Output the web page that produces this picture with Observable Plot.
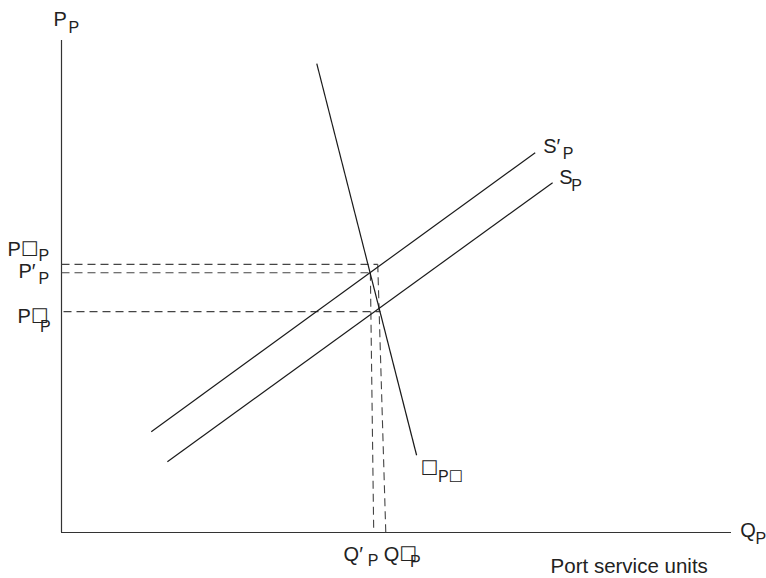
<!DOCTYPE html>
<html><head><meta charset="utf-8">
<script src="https://cdn.jsdelivr.net/npm/d3@7"></script>
<script src="https://cdn.jsdelivr.net/npm/@observablehq/plot@0.6"></script>
<style>html,body{margin:0;padding:0;background:#fff;}#chart svg{display:block;}</style>
</head><body><div id="chart"></div>
<script>
// Curves (quantity, price) in chart units 0..100
const supplyNew = [{q: 13.4, p: 20.5}, {q: 70.7, p: 77.2}];   // S'P
const supplyOld = [{q: 15.8, p: 14.4}, {q: 73.3, p: 71.1}];   // SP
const demand    = [{q: 38.1, p: 95.3}, {q: 53.0, p: 15.7}];   // DP

// Dashed guide lines (price levels and quantities)
const guideQ1 = [0, 0, 0.3, 46.1, 47.2];
const guideP1 = [54.5, 52.8, 44.9, 52.8, 54.5];
const guideQ2 = [47.2, 46.1, 47.6, 46.6, 48.4];
const guideP2 = [54.5, 52.8, 44.9, 0, 0];

// Labels: main text and subscripts
const mainText = ["P", "P\u2610", "P\u2032", "P\u2610", "Q\u2032", "Q\u2610", "S\u2032", "S", "\u2610", "Q"];
const mainX    = [-1.19, -8.06, -6.42, -6.57, 42.1, 48.1, 71.9, 74.3, 53.6, 101.3];
const mainY    = [103.0, 56.3, 51.8, 42.5, -5.7, -5.7, 77.2, 70.9, 11.6, -1.0];
const subText  = ["P", "P", "P", "P", "P", "P", "P", "P", "P\u2610", "P"];
const subX     = [1.04, -3.43, -3.43, -3.2, 45.7, 52.0, 74.8, 76.1, 56.2, 103.6];
const subY     = [101.6, 55.1, 50.6, 40.7, -6.9, -7.1, 76.0, 69.5, 10.2, -2.4];
const unitsLabel = ["Port service units"];
const unitsX = [73.0];
const unitsY = [-8.3];

const curves = [supplyNew, supplyOld, demand].map(c => ({x1: c[0].q, y1: c[0].p, x2: c[1].q, y2: c[1].p}));
const guides = guideQ1.map((q, i) => ({x1: q, y1: guideP1[i], x2: guideQ2[i], y2: guideP2[i]}));
const idx = d3.range(mainText.length);
const font = "Liberation Sans, Arial, DejaVu Sans, sans-serif";

const chart = Plot.plot({
  width: 766, height: 578,
  marginLeft: 61, marginRight: 35, marginTop: 40, marginBottom: 46,
  x: {domain: [0, 100], axis: null},
  y: {domain: [0, 100], axis: null},
  style: {background: "white", overflow: "visible"},
  marks: [
    Plot.ruleX([0], {y1: 0, y2: 100, stroke: "#333", strokeWidth: 1.2}),
    Plot.ruleY([0], {x1: 0, x2: 100, stroke: "#333", strokeWidth: 1.2}),
    Plot.link(guides, {x1: "x1", y1: "y1", x2: "x2", y2: "y2", stroke: "#444", strokeWidth: 1.1, strokeDasharray: "8,5"}),
    Plot.link(curves, {x1: "x1", y1: "y1", x2: "x2", y2: "y2", stroke: "#1a1a1a", strokeWidth: 1.2}),
    Plot.text(idx, {x: i => mainX[i], y: i => mainY[i], text: i => mainText[i], textAnchor: "start", lineAnchor: "bottom", fontSize: 20, fontFamily: font, fill: "#222"}),
    Plot.text(idx, {x: i => subX[i], y: i => subY[i], text: i => subText[i], textAnchor: "start", lineAnchor: "bottom", fontSize: 16, fontFamily: font, fill: "#222"}),
    Plot.text([0], {x: i => unitsX[i], y: i => unitsY[i], text: i => unitsLabel[i], textAnchor: "start", lineAnchor: "bottom", fontSize: 20.5, fontFamily: font, fill: "#222"})
  ]
});
document.getElementById("chart").appendChild(chart);
</script></body></html>
